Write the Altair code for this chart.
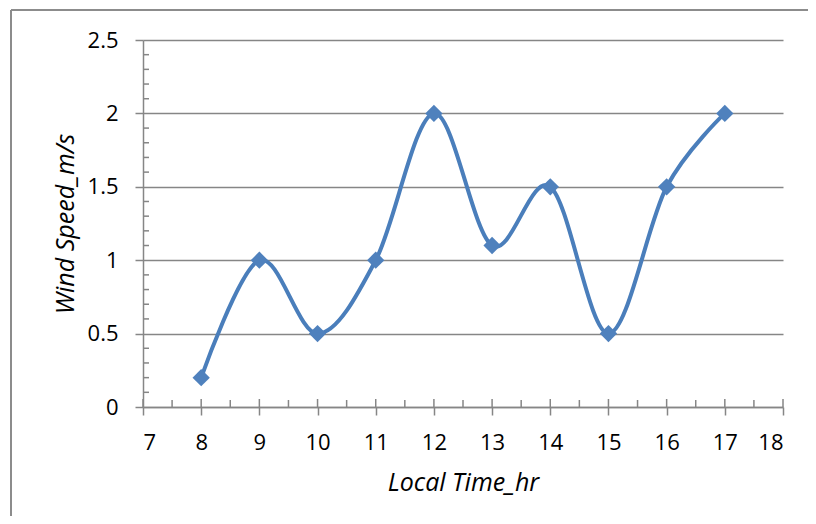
import altair as alt
import pandas as pd

hours = [8, 9, 10, 11, 12, 13, 14, 15, 16, 17]
speeds = [0.2, 1.0, 0.5, 1.0, 2.0, 1.1, 1.5, 0.5, 1.5, 2.0]
x_ticks = [7, 8, 9, 10, 11, 12, 13, 14, 15, 16, 17, 18]
x_minor = [7.5, 8.5, 9.5, 10.5, 11.5, 12.5, 13.5, 14.5, 15.5, 16.5, 17.5]
y_ticks = [0, 0.5, 1, 1.5, 2, 2.5]
y_minor = [0.1, 0.2, 0.3, 0.4, 0.6, 0.7, 0.8, 0.9, 1.1, 1.2, 1.3, 1.4,
           1.6, 1.7, 1.8, 1.9, 2.1, 2.2, 2.3, 2.4]

W, H = 640, 367
GRAY = "#868686"
BLUE = "#4A7EBB"
FONT = "Open Sans"

df = pd.DataFrame({"hour": hours, "speed": speeds})

xscale = alt.Scale(domain=[7, 18], nice=False, zero=False)
yscale = alt.Scale(domain=[0, 2.5], nice=False)

base = alt.Chart(df)

line = base.mark_line(
    interpolate="cardinal", tension=0, color=BLUE, strokeWidth=4
).encode(
    x=alt.X(
        "hour:Q",
        scale=xscale,
        axis=alt.Axis(
            values=x_ticks,
            format="~g",
            title="Local Time_hr",
            grid=False,
            tickSize=8,
            labelPadding=17,
            titlePadding=17,
        ),
    ),
    y=alt.Y(
        "speed:Q",
        scale=yscale,
        axis=alt.Axis(
            values=y_ticks,
            format="~g",
            title="Wind Speed_m/s",
            grid=True,
            tickSize=8,
            labelPadding=17,
            titlePadding=9,
        ),
    ),
)

points = base.mark_point(
    shape="diamond", filled=True, size=300, color="#4F81BD", opacity=1
).encode(x=alt.X("hour:Q", scale=xscale), y=alt.Y("speed:Q", scale=yscale))

ymin_df = pd.DataFrame({"v": y_minor})
ymin = alt.Chart(ymin_df).mark_rule(color=GRAY, strokeWidth=1.5).encode(
    y=alt.Y("v:Q", scale=yscale), x=alt.value(0), x2=alt.value(6)
)

xmaj_df = pd.DataFrame({"v": x_ticks})
xmaj = alt.Chart(xmaj_df).mark_rule(color=GRAY, strokeWidth=1.5).encode(
    x=alt.X("v:Q", scale=xscale), y=alt.value(H - 8), y2=alt.value(H)
)
xmin_df = pd.DataFrame({"v": x_minor})
xmin = alt.Chart(xmin_df).mark_rule(color=GRAY, strokeWidth=1.5).encode(
    x=alt.X("v:Q", scale=xscale), y=alt.value(H - 7), y2=alt.value(H)
)

frame_df = pd.DataFrame({"a": [0]})
frame_top = alt.Chart(frame_df).mark_rule(color="#8C8C8C", strokeWidth=2).encode(
    x=alt.value(-132), x2=alt.value(W + 40), y=alt.value(-30)
)
frame_left = alt.Chart(frame_df).mark_rule(color="#8C8C8C", strokeWidth=2).encode(
    x=alt.value(-132), y=alt.value(-30), y2=alt.value(H + 120)
)

chart = (
    alt.layer(frame_top, frame_left, ymin, xmaj, xmin, line, points)
    .properties(
        width=W,
        height=H,
        autosize=alt.AutoSizeParams(type="none"),
        padding={"left": 135, "top": 32, "right": 25, "bottom": 109},
    )
    .configure_view(stroke=None)
    .configure_axis(
        domainColor=GRAY,
        domainWidth=1.5,
        tickColor=GRAY,
        tickWidth=1.5,
        gridColor=GRAY,
        gridWidth=1.5,
        labelFont=FONT,
        labelFontSize=22,
        labelColor="#000000",
        titleFont=FONT,
        titleFontSize=25,
        titleFontStyle="italic",
        titleFontWeight="normal",
        titleColor="#000000",
    )
)

chart.save("out.html", embed_options={"renderer": "svg", "actions": False})
